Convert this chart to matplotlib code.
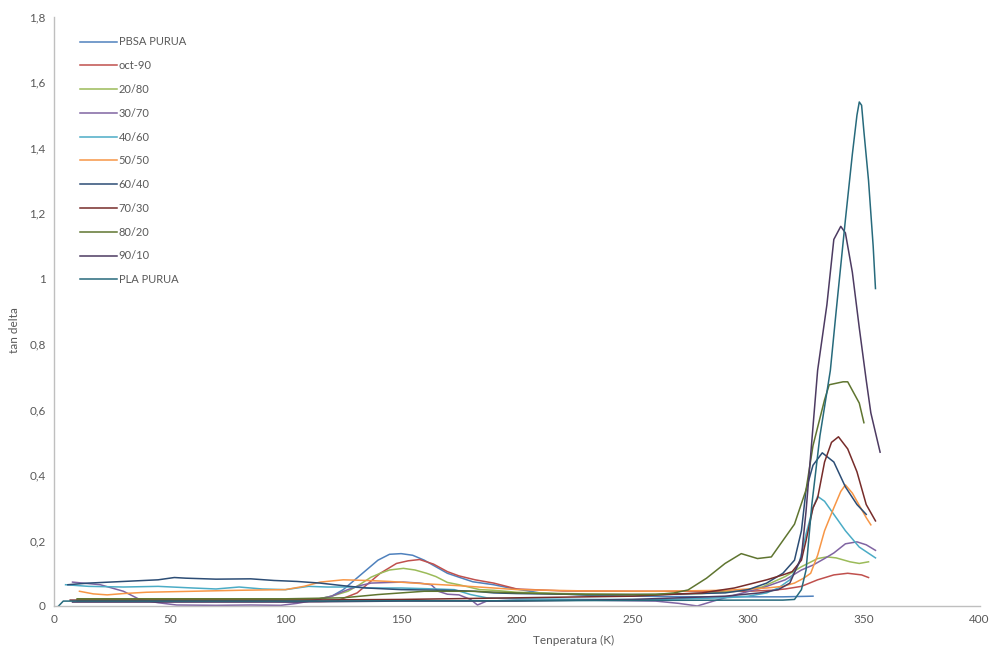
import matplotlib
matplotlib.use("Agg")
import matplotlib.pyplot as plt
from matplotlib.ticker import FuncFormatter

plt.rcParams['font.family'] = ['Lato', 'DejaVu Sans']

# tan delta vs temperature for each blend
labels = ["PBSA PURUA", "oct-90", "20/80", "30/70", "40/60", "50/50",
          "60/40", "70/30", "80/20", "90/10", "PLA PURUA"]
colors = ['#4F81BD', '#C0504D', '#9BBB59', '#8064A2', '#4BACC6', '#F79646',
          '#2C4D75', '#772C2A', '#5F7530', '#4D3B62', '#276A7C']

t_pbsa = [10, 30, 60, 90, 105, 112, 120, 125, 130, 135, 140, 145, 150, 155, 160, 165, 170, 175, 181,
          190, 197, 210, 230, 250, 280, 300, 315, 328]
y_pbsa = [0.018, 0.018, 0.017, 0.016, 0.012, 0.018, 0.03, 0.05, 0.08, 0.11, 0.14, 0.158, 0.16, 0.155,
          0.14, 0.12, 0.1, 0.088, 0.074, 0.065, 0.055, 0.04, 0.033, 0.03, 0.028, 0.028, 0.028, 0.03]

t_10_90 = [10, 50, 100, 115, 122, 131, 136, 141, 148, 153, 158, 164, 170, 175, 182, 190, 200, 220, 250,
           280, 300, 310, 316, 323, 330, 337, 343, 349, 352]
y_10_90 = [0.015, 0.015, 0.015, 0.014, 0.015, 0.04, 0.07, 0.1, 0.13, 0.138, 0.142, 0.128, 0.105, 0.092,
           0.08, 0.07, 0.052, 0.046, 0.045, 0.045, 0.045, 0.048, 0.052, 0.06, 0.08, 0.095, 0.1, 0.095, 0.087]

t_20_80 = [10, 60, 100, 113, 120, 127, 132, 137, 141, 145, 151, 156, 161, 165, 170, 175, 184, 190, 200,
           220, 250, 280, 295, 306, 316, 323, 330, 334, 338, 344, 348, 352]
y_20_80 = [0.02, 0.02, 0.02, 0.02, 0.03, 0.045, 0.065, 0.088, 0.1, 0.11, 0.115, 0.11, 0.1, 0.09, 0.072,
           0.065, 0.05, 0.048, 0.042, 0.038, 0.035, 0.038, 0.045, 0.058, 0.09, 0.12, 0.145, 0.15, 0.147,
           0.135, 0.13, 0.135]

t_30_70 = [8, 20, 30, 37, 45, 53, 70, 85, 98, 105, 113, 120, 127, 132, 137, 145, 151, 158, 163, 166,
           170, 175, 180, 183, 187, 200, 230, 260, 270, 278, 285, 295, 306, 316, 323, 328, 333, 337,
           342, 347, 351, 355]
y_30_70 = [0.073, 0.065, 0.045, 0.02, 0.01, 0.003, 0.002, 0.003, 0.002, 0.008, 0.018, 0.03, 0.05, 0.062,
           0.07, 0.072, 0.073, 0.07, 0.065, 0.045, 0.036, 0.034, 0.02, 0.003, 0.015, 0.018, 0.018, 0.015,
           0.008, 0.0, 0.015, 0.035, 0.055, 0.08, 0.11, 0.125, 0.145, 0.162, 0.19, 0.196, 0.187, 0.17]

t_40_60 = [5, 15, 30, 45, 60, 70, 80, 90, 100, 110, 118, 128, 137, 150, 165, 173, 180, 187, 200, 230,
           260, 290, 300, 308, 313, 318, 322, 325, 328, 330, 333, 337, 342, 348, 355]
y_40_60 = [0.065, 0.06, 0.058, 0.06, 0.055, 0.052, 0.058, 0.052, 0.05, 0.06, 0.058, 0.058, 0.055, 0.055,
           0.052, 0.05, 0.035, 0.025, 0.022, 0.02, 0.02, 0.025, 0.03, 0.04, 0.055, 0.08, 0.13, 0.22, 0.3,
           0.335, 0.32, 0.28, 0.23, 0.18, 0.147]

t_50_50 = [11, 17, 23, 30, 40, 60, 80, 100, 108, 115, 125, 135, 145, 160, 175, 190, 200, 230, 260, 290,
           300, 308, 315, 320, 324, 327, 330, 333, 337, 340, 342, 345, 347, 351, 353]
y_50_50 = [0.045, 0.037, 0.034, 0.038, 0.042, 0.045, 0.048, 0.05, 0.06, 0.073, 0.08, 0.078, 0.075, 0.068,
           0.062, 0.055, 0.05, 0.046, 0.045, 0.048, 0.052, 0.055, 0.06, 0.07, 0.085, 0.1, 0.155, 0.23, 0.3,
           0.35, 0.37, 0.345, 0.32, 0.27, 0.248]

t_60_40 = [6, 15, 30, 45, 52, 57, 70, 85, 95, 105, 115, 125, 135, 150, 170, 182, 190, 200, 230, 260, 290,
           300, 308, 315, 320, 323, 325, 328, 332, 337, 342, 347, 351]
y_60_40 = [0.065, 0.07, 0.075, 0.08, 0.087, 0.085, 0.082, 0.083, 0.078, 0.075, 0.07, 0.062, 0.055, 0.05,
           0.048, 0.045, 0.04, 0.038, 0.035, 0.035, 0.04, 0.05, 0.07, 0.1, 0.14, 0.23, 0.355, 0.43, 0.468,
           0.44, 0.364, 0.31, 0.28]

t_70_30 = [7, 50, 100, 150, 200, 250, 280, 294, 308, 315, 319, 323, 325, 328, 330, 333, 336, 339, 343,
           347, 351, 355]
y_70_30 = [0.018, 0.018, 0.018, 0.02, 0.025, 0.03, 0.04, 0.055, 0.08, 0.095, 0.105, 0.14, 0.2, 0.3, 0.33,
           0.44, 0.5, 0.517, 0.48, 0.41, 0.31, 0.26]

t_80_20 = [10, 50, 100, 125, 140, 160, 180, 200, 230, 260, 268, 274, 282, 290, 297, 304, 310, 315, 320,
           325, 328, 333, 335, 341, 343, 348, 350]
y_80_20 = [0.022, 0.022, 0.022, 0.025, 0.035, 0.045, 0.045, 0.04, 0.035, 0.035, 0.04, 0.049, 0.085, 0.13,
           0.16, 0.145, 0.15, 0.2, 0.25, 0.355, 0.49, 0.63, 0.676, 0.685, 0.685, 0.62, 0.56]

t_90_10 = [8, 50, 100, 150, 200, 250, 290, 305, 313, 318, 323, 325, 330, 334, 337, 340, 342, 345, 348,
           351, 353, 357]
y_90_10 = [0.012, 0.012, 0.012, 0.015, 0.015, 0.02, 0.03, 0.04, 0.05, 0.07, 0.15, 0.29, 0.72, 0.92, 1.12,
           1.16, 1.14, 1.02, 0.85, 0.69, 0.59, 0.47]

t_pla = [2, 4, 50, 100, 150, 200, 250, 300, 315, 320, 323, 325, 327.5, 331, 335.5, 338, 342, 345, 347,
         348, 349, 350, 352, 354, 355]
y_pla = [0.0, 0.015, 0.015, 0.015, 0.016, 0.016, 0.017, 0.018, 0.018, 0.02, 0.05, 0.11, 0.31, 0.52, 0.72,
         0.9, 1.18, 1.38, 1.5, 1.54, 1.53, 1.45, 1.3, 1.1, 0.97]

temps = [t_pbsa, t_10_90, t_20_80, t_30_70, t_40_60, t_50_50, t_60_40, t_70_30, t_80_20, t_90_10, t_pla]
vals = [y_pbsa, y_10_90, y_20_80, y_30_70, y_40_60, y_50_50, y_60_40, y_70_30, y_80_20, y_90_10, y_pla]

x_ticks = [0, 50, 100, 150, 200, 250, 300, 350, 400]
y_ticks = [0, 0.2, 0.4, 0.6, 0.8, 1.0, 1.2, 1.4, 1.6, 1.8]

fig = plt.figure(figsize=(9.91, 6.5), dpi=100)
ax = fig.add_axes([0.0545, 0.0677, 0.934, 0.9063])

for t, v, lab, c in zip(temps, vals, labels, colors):
    ax.plot(t, v, color=c, lw=1.1, label=lab, solid_joinstyle='round')

ax.set_xlim(0, 400)
ax.set_ylim(0, 1.8)
ax.set_xticks(x_ticks)
ax.set_yticks(y_ticks)

def comma_fmt(v, pos):
    s = f"{v:g}"
    return s.replace('.', ',')

ax.yaxis.set_major_formatter(FuncFormatter(comma_fmt))
ax.tick_params(length=0, labelsize=8.5, labelcolor='#595959', pad=6)

for side in ['top', 'right']:
    ax.spines[side].set_visible(False)
for side in ['left', 'bottom']:
    ax.spines[side].set_color('#BFBFBF')
    ax.spines[side].set_linewidth(1.0)

ax.set_xlabel("Tenperatura (K)", fontsize=8.5, color='#595959')
ax.xaxis.set_label_coords(0.561, -0.05)
ax.set_ylabel("tan delta", fontsize=8.5, color='#595959')
ax.yaxis.set_label_coords(-0.037, 0.469)

leg = ax.legend(loc='upper left', bbox_to_anchor=(0.02, 0.98), frameon=False,
                fontsize=8, handlelength=3.3, handletextpad=0.15, labelspacing=1.15,
                borderaxespad=0.3)
for txt in leg.get_texts():
    txt.set_color('#595959')

fig.savefig("out.png", dpi=100)
